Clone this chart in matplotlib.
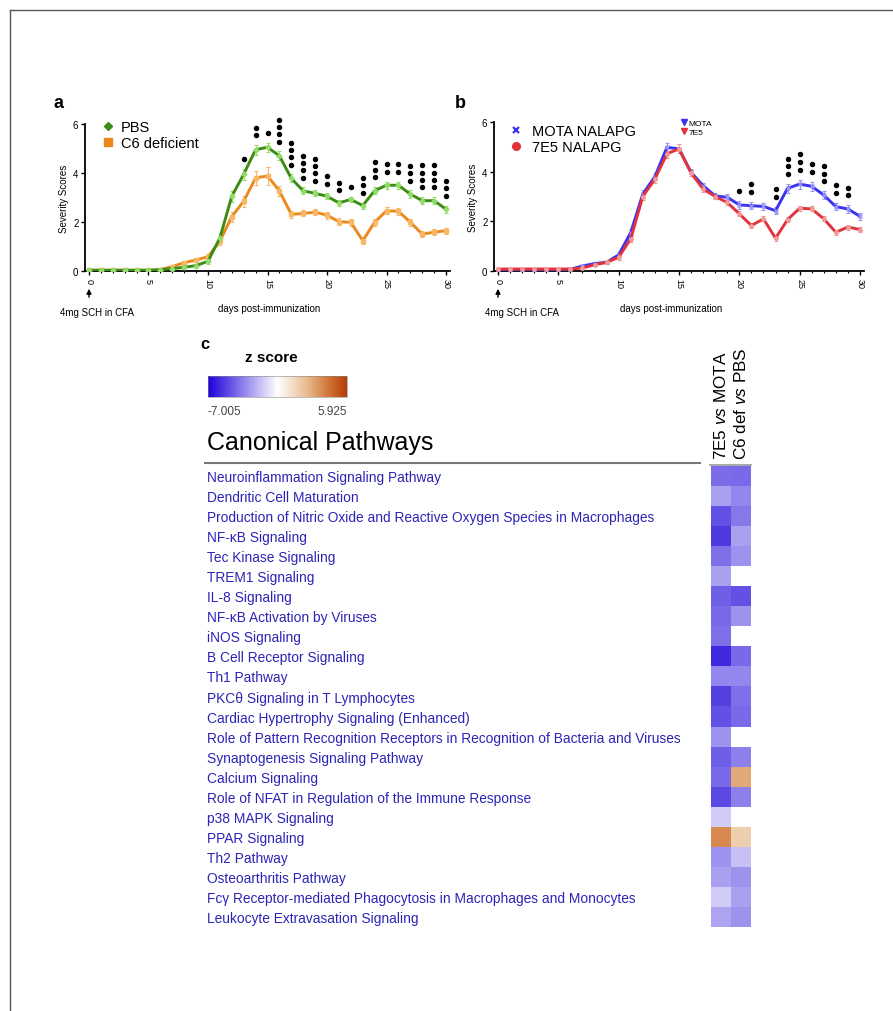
import numpy as np
import matplotlib
matplotlib.use("Agg")
import matplotlib.pyplot as plt
import matplotlib.transforms as mtransforms
from matplotlib.colors import LinearSegmentedColormap, TwoSlopeNorm
from matplotlib.lines import Line2D
from matplotlib.patches import FancyArrowPatch
from matplotlib.cm import ScalarMappable

plt.rcParams['font.family'] = ['Liberation Sans', 'DejaVu Sans']
plt.rcParams['mathtext.fontset'] = 'custom'
plt.rcParams['mathtext.rm'] = 'Liberation Sans'
plt.rcParams['mathtext.it'] = 'Liberation Sans:italic'

# ---- data: severity curves ----
days = list(range(31))
pbs = [0.03, 0.03, 0.03, 0.03, 0.03, 0.03, 0.05, 0.10, 0.15, 0.22, 0.40, 1.35, 3.05, 3.95, 4.95, 5.05,
       4.70, 3.78, 3.27, 3.17, 3.05, 2.78, 2.92, 2.67, 3.28, 3.50, 3.50, 3.14, 2.87, 2.87, 2.52]
pbs_err = [0.02, 0.02, 0.02, 0.02, 0.02, 0.02, 0.03, 0.05, 0.06, 0.08, 0.10, 0.20, 0.22, 0.22, 0.20, 0.18,
           0.18, 0.16, 0.14, 0.12, 0.12, 0.12, 0.12, 0.12, 0.15, 0.15, 0.15, 0.15, 0.15, 0.15, 0.15]
c6 = [0.03, 0.03, 0.03, 0.03, 0.03, 0.03, 0.06, 0.18, 0.34, 0.45, 0.58, 1.22, 2.22, 2.85, 3.80, 3.88,
      3.27, 2.31, 2.35, 2.40, 2.28, 2.01, 1.99, 1.24, 1.99, 2.46, 2.44, 1.99, 1.51, 1.58, 1.65]
c6_err = [0.02, 0.02, 0.02, 0.02, 0.02, 0.02, 0.03, 0.08, 0.08, 0.08, 0.10, 0.15, 0.20, 0.22, 0.30, 0.38,
          0.20, 0.15, 0.12, 0.12, 0.14, 0.14, 0.14, 0.14, 0.14, 0.14, 0.14, 0.14, 0.12, 0.12, 0.12]
mota = [0.05, 0.05, 0.05, 0.05, 0.05, 0.05, 0.07, 0.20, 0.30, 0.35, 0.65, 1.55, 3.10, 3.80, 4.98, 4.92,
        3.97, 3.44, 3.02, 2.97, 2.66, 2.63, 2.60, 2.43, 3.33, 3.50, 3.41, 3.06, 2.59, 2.50, 2.20]
mota_err = [0.02, 0.02, 0.02, 0.02, 0.02, 0.02, 0.03, 0.05, 0.05, 0.06, 0.10, 0.15, 0.15, 0.15, 0.18, 0.18,
            0.15, 0.12, 0.12, 0.12, 0.15, 0.15, 0.15, 0.15, 0.18, 0.18, 0.18, 0.15, 0.15, 0.15, 0.15]
e7 = [0.08, 0.08, 0.08, 0.08, 0.08, 0.08, 0.08, 0.12, 0.25, 0.35, 0.55, 1.30, 3.00, 3.70, 4.72, 4.92,
      3.95, 3.30, 3.00, 2.76, 2.30, 1.83, 2.10, 1.32, 2.07, 2.53, 2.50, 2.10, 1.56, 1.77, 1.67]
e7_err = [0.02, 0.02, 0.02, 0.02, 0.02, 0.02, 0.03, 0.05, 0.05, 0.06, 0.10, 0.15, 0.15, 0.15, 0.18, 0.18,
          0.12, 0.12, 0.10, 0.10, 0.10, 0.10, 0.10, 0.10, 0.10, 0.10, 0.10, 0.10, 0.10, 0.10, 0.10]

# number of significance dots per day
sig_a = {13: 1, 14: 2, 15: 1, 16: 4, 17: 4, 18: 4, 19: 4, 20: 2, 21: 2, 22: 1, 23: 3,
         24: 3, 25: 2, 26: 2, 27: 3, 28: 4, 29: 4, 30: 3}
sig_b = {20: 1, 21: 2, 23: 2, 24: 3, 25: 3, 26: 2, 27: 3, 28: 2, 29: 2}

# ---- data: pathway heatmap ----
pathways = [
    "Neuroinflammation Signaling Pathway",
    "Dendritic Cell Maturation",
    "Production of Nitric Oxide and Reactive Oxygen Species in Macrophages",
    "NF-\u03baB Signaling",
    "Tec Kinase Signaling",
    "TREM1 Signaling",
    "IL-8 Signaling",
    "NF-\u03baB Activation by Viruses",
    "iNOS Signaling",
    "B Cell Receptor Signaling",
    "Th1 Pathway",
    "PKC\u03b8 Signaling in T Lymphocytes",
    "Cardiac Hypertrophy Signaling (Enhanced)",
    "Role of Pattern Recognition Receptors in Recognition of Bacteria and Viruses",
    "Synaptogenesis Signaling Pathway",
    "Calcium Signaling",
    "Role of NFAT in Regulation of the Immune Response",
    "p38 MAPK Signaling",
    "PPAR Signaling",
    "Th2 Pathway",
    "Osteoarthritis Pathway",
    "Fc\u03b3 Receptor-mediated Phagocytosis in Macrophages and Monocytes",
    "Leukocyte Extravasation Signaling",
]
z_7e5 = [-4.0, -2.6, -4.8, -5.4, -3.9, -2.6, -4.4, -4.1, -3.9, -5.9, -3.3, -5.2,
         -4.8, -3.0, -4.4, -4.1, -5.0, -1.4, 3.8, -3.0, -2.6, -1.4, -2.5]
z_c6 = [-4.1, -3.3, -3.7, -2.6, -3.0, np.nan, -4.8, -3.0, np.nan, -4.1, -3.3, -3.9,
        -4.1, np.nan, -3.5, 3.0, -3.5, np.nan, 1.8, -1.7, -3.0, -2.6, -3.0]
zmin, zmax = -7.005, 5.925
columns = ["7E5 $\\it{vs}$ MOTA", "C6 def $\\it{vs}$ PBS"]

W, H = 893, 1012
fig = plt.figure(figsize=(W / 100, H / 100), dpi=100)


def fx(px):
    return px / W


def fy(py):
    return 1 - py / H


def add_px_axes(left, right, top, bottom):
    return fig.add_axes([fx(left), fy(bottom), (right - left) / W, (bottom - top) / H])


def style_curve_axes(ax):
    ax.set_xlim(-0.3, 30.3)
    ax.set_ylim(0, 6)
    for s in ['top', 'right']:
        ax.spines[s].set_visible(False)
    for s in ['left', 'bottom']:
        ax.spines[s].set_linewidth(1.3)
    ax.set_xticks(range(0, 31, 5))
    ax.set_xticklabels([str(d) for d in range(0, 31, 5)], rotation=-90, fontsize=6.5)
    ax.set_xticks(days, minor=True)
    ax.set_yticks([0, 2, 4, 6])
    ax.set_yticklabels(['0', '2', '4', '6'], fontsize=7)
    ax.tick_params(length=3, width=1, pad=2)
    ax.tick_params(which='minor', length=1.5, width=0.8)
    ax.set_ylabel('Severity Scores', fontsize=7, labelpad=3)


def draw_series(ax, y, err, color, ecolor, marker):
    ax.errorbar(days, y, yerr=err, color=color, lw=2.1, ecolor=ecolor, elinewidth=0.8,
                capsize=1.5, capthick=0.8, marker=marker, ms=2.5, mfc=ecolor, mec=ecolor, zorder=3)


def draw_sig(ax, sig, s1, e1, s2, e2, step):
    for d, n in sig.items():
        base = max(s1[d] + e1[d], s2[d] + e2[d]) + 0.4
        ax.plot([d] * n, [base + k * step for k in range(n)], 'o', color='black', ms=2.9,
                ls='none', clip_on=False, zorder=4)


def footer(ax_x0_px, label_x_px, days_x_px):
    fig.add_artist(FancyArrowPatch(
        (fx(ax_x0_px), fy(301)), (fx(ax_x0_px), fy(287)), transform=fig.transFigure,
        arrowstyle='-|>', mutation_scale=7, color='black', lw=1))
    fig.text(fx(label_x_px), fy(313), '4mg SCH in CFA', fontsize=7, va='center')
    fig.text(fx(days_x_px), fy(309), 'days post-immunization', fontsize=7, va='center')


green, green_e = '#3d8c16', '#92dc6a'
orange, orange_e = '#ea8a1e', '#f6b866'
blue, blue_e = '#3b32f2', '#9a96f8'
red, red_e = '#e2333a', '#f29a9a'

# ---- panel a ----
axa = add_px_axes(85.4, 449.6, 125, 272)
style_curve_axes(axa)
draw_series(axa, c6, c6_err, orange, orange_e, 's')
draw_series(axa, pbs, pbs_err, green, green_e, 'D')
draw_sig(axa, sig_a, pbs, pbs_err, c6, c6_err, 0.3)
axa.legend(handles=[Line2D([], [], marker='D', color=green, ls='none', ms=4),
                    Line2D([], [], marker='s', color=orange, ls='none', ms=6)],
           labels=['PBS', 'C6 deficient'], loc='upper left', frameon=False,
           bbox_to_anchor=(fx(93), fy(114)), bbox_transform=fig.transFigure,
           fontsize=10.5, handlelength=1, handletextpad=0.4, labelspacing=0.1, borderpad=0)
fig.text(fx(54), fy(103), 'a', fontsize=13, fontweight='bold', va='center')
footer(89, 60, 218)

# ---- panel b ----
axb = add_px_axes(494.4, 863.6, 123, 272)
style_curve_axes(axb)
draw_series(axb, mota, mota_err, blue, blue_e, 'x')
draw_series(axb, e7, e7_err, red, red_e, 'o')
draw_sig(axb, sig_b, mota, mota_err, e7, e7_err, 0.31)
leg1 = axb.legend(handles=[Line2D([], [], marker='x', color=blue, ls='none', ms=5, mew=1.6),
                           Line2D([], [], marker='o', color=red, ls='none', ms=5.5)],
                  labels=['MOTA NALAPG', '7E5 NALAPG'], loc='upper left', frameon=False,
                  bbox_to_anchor=(fx(501), fy(118)), bbox_transform=fig.transFigure,
                  fontsize=10.5, handlelength=1, handletextpad=0.6, labelspacing=0.1, borderpad=0)
axb.add_artist(leg1)
axb.legend(handles=[Line2D([], [], marker='v', color=blue, ls='none', ms=4),
                    Line2D([], [], marker='v', color=red, ls='none', ms=4)],
           labels=['MOTA', '7E5'], loc='upper left', frameon=False,
           bbox_to_anchor=(fx(677), fy(116)), bbox_transform=fig.transFigure,
           fontsize=6, handlelength=0.6, handletextpad=0.3, labelspacing=0.15, borderpad=0)
fig.text(fx(455), fy(103), 'b', fontsize=13, fontweight='bold', va='center')
footer(498, 485, 620)

# ---- panel c ----
cmap = LinearSegmentedColormap.from_list('zscore', [
    (0.0, '#1c00d8'), (0.5, '#ffffff'), (0.72, '#e6b88a'), (0.88, '#cf7030'), (1.0, '#b43c0c')])
cmap.set_bad('white')
norm = TwoSlopeNorm(vmin=zmin, vcenter=0, vmax=zmax)

fig.text(fx(200), fy(345), 'c', fontsize=12, fontweight='bold', va='center')
fig.text(fx(271), fy(358), 'z score', fontsize=11, fontweight='bold', va='center', ha='center')
cax = add_px_axes(208, 347, 377, 398)
cb = fig.colorbar(ScalarMappable(norm=norm, cmap=cmap), cax=cax, orientation='horizontal')
cb.set_ticks([])
cb.outline.set_linewidth(0.4)
cb.outline.set_edgecolor('#888888')
fig.text(fx(208), fy(412), '%.3f' % zmin, fontsize=8.5, color='#444444', va='center', ha='left')
fig.text(fx(347), fy(412), '%.3f' % zmax, fontsize=8.5, color='#444444', va='center', ha='right')
fig.text(fx(207), fy(443), 'Canonical Pathways', fontsize=18, va='center')
fig.add_artist(Line2D([fx(205), fx(700)], [fy(464), fy(464)], color='#777777', lw=1.5))
fig.add_artist(Line2D([fx(710), fx(751)], [fy(466), fy(466)], color='#999999', lw=1.2))

hax = add_px_axes(710.5, 750.5, 467, 928)
zmat = np.ma.masked_invalid(np.column_stack([z_7e5, z_c6]))
hax.imshow(zmat, cmap=cmap, norm=norm, aspect='auto', interpolation='nearest')
hax.set_xlim(-0.5, 1.5)
hax.set_ylim(len(pathways) - 0.5, -0.5)
hax.axis('off')

trans = mtransforms.blended_transform_factory(fig.transFigure, hax.transData)
for i, name in enumerate(pathways):
    hax.text(fx(207), i + 0.05, name, transform=trans, va='center', ha='left',
             color='#2c24b6', fontsize=9.9)
for j, col in enumerate(columns):
    hax.text(j, -0.85, col, rotation=90, ha='center', va='bottom', fontsize=12.3)

# ---- page frame ----
fig.add_artist(Line2D([fx(10), fx(10)], [fy(11), 0], color='#555555', lw=1))
fig.add_artist(Line2D([fx(10), 1], [fy(11), fy(11)], color='#555555', lw=1))

fig.savefig('out.png', dpi=100)
